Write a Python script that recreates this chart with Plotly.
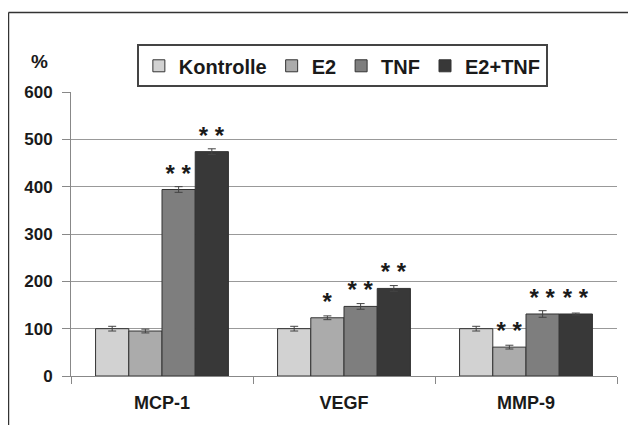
import plotly.graph_objects as go

categories = ["MCP-1", "VEGF", "MMP-9"]
series_names = ["Kontrolle", "E2", "TNF", "E2+TNF"]
values = {
    "Kontrolle": [100, 100, 100],
    "E2": [95, 123, 61],
    "TNF": [394, 147, 131],
    "E2+TNF": [474, 185, 131],
}
errors = {
    "Kontrolle": [5, 5, 5],
    "E2": [4, 4, 4],
    "TNF": [6, 6, 7],
    "E2+TNF": [6, 6, 2],
}
stars = {
    "Kontrolle": ["", "", ""],
    "E2": ["", "*", "* *"],
    "TNF": ["* *", "* *", "* *"],
    "E2+TNF": ["* *", "* *", "* *"],
}
colors = {
    "Kontrolle": "#d2d2d2",
    "E2": "#ababab",
    "TNF": "#7e7e7e",
    "E2+TNF": "#383838",
}
y_ticks = [0, 100, 200, 300, 400, 500, 600]

FONT = "Liberation Sans, Arial, sans-serif"

fig = go.Figure()
for name in series_names:
    fig.add_trace(go.Bar(
        name=name,
        x=categories,
        y=values[name],
        marker=dict(color=colors[name], line=dict(color="#333333", width=1)),
        error_y=dict(type="data", array=errors[name], visible=True,
                     color="#444444", thickness=1, width=4),
        text=stars[name],
        textposition="outside",
        textfont=dict(family=FONT, size=24, color="#1a1a1a", weight="bold"),
        cliponaxis=False,
    ))

# The page body adds an 8px offset; the figure is sized to fit inside it.
fig.update_layout(
    width=628, height=417,
    margin=dict(l=63, r=19, t=84, b=47),
    paper_bgcolor="white",
    plot_bgcolor="white",
    barmode="group",
    bargap=0.27,
    bargroupgap=0,
    font=dict(family=FONT, color="#1a1a1a"),
    legend=dict(
        orientation="h",
        x=0.497, xanchor="center",
        y=1.168, yanchor="top",
        bordercolor="#444444", borderwidth=2,
        font=dict(family=FONT, size=20, color="#1a1a1a", weight="bold"),
        itemwidth=30,
        traceorder="normal",
    ),
    xaxis=dict(
        showline=True, linecolor="#888888", linewidth=1,
        ticks="outside", tickson="boundaries", ticklen=7, tickcolor="#888888",
        tickfont=dict(family=FONT, size=18, color="#1a1a1a", weight="bold"),
        ticklabelstandoff=10,
        showgrid=False,
    ),
    yaxis=dict(
        range=[0, 600],
        tickvals=y_ticks,
        showline=True, linecolor="#888888", linewidth=1,
        ticks="outside", ticklen=8, tickcolor="#888888",
        tickfont=dict(family=FONT, size=17, color="#1a1a1a", weight="bold"),
        ticklabelstandoff=6,
        showgrid=True, gridcolor="#999999", gridwidth=1,
        zeroline=False,
    ),
    annotations=[
        dict(text="%", xref="paper", yref="paper", x=-0.057, y=1.065,
             xanchor="center", yanchor="bottom", showarrow=False,
             font=dict(family=FONT, size=19, color="#1a1a1a", weight="bold")),
    ],
    shapes=[
        dict(type="line", xref="paper", yref="paper", x0=-0.1145, x1=-0.1145,
             y0=1.2797, y1=-0.2, line=dict(color="#333333", width=1.5)),
        dict(type="line", xref="paper", yref="paper", x0=-0.1145, x1=1.05,
             y0=1.2797, y1=1.2797, line=dict(color="#333333", width=1.5)),
    ],
)

fig.write_html("out.html")
